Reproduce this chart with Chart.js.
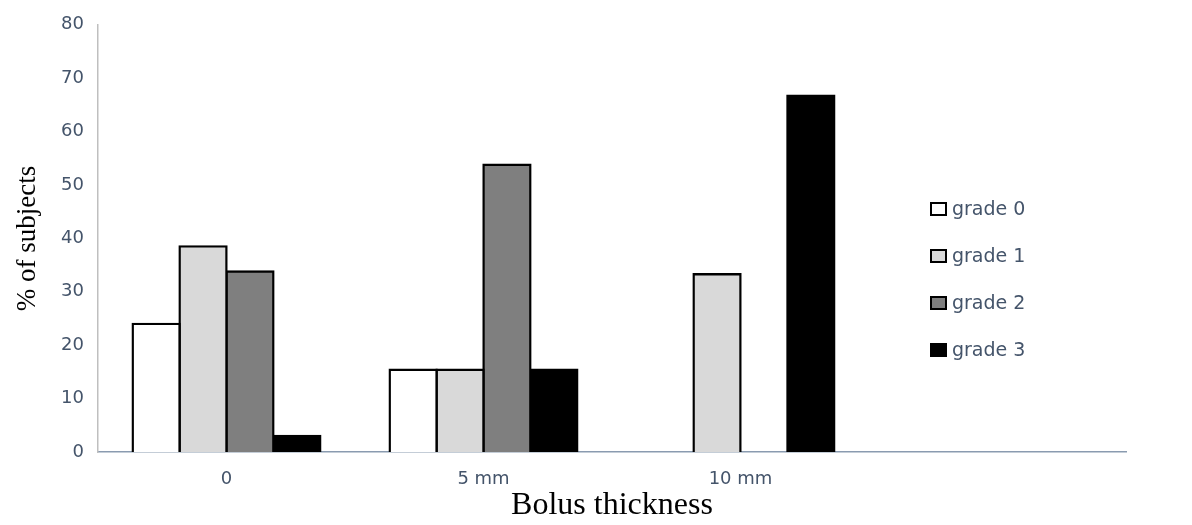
<!DOCTYPE html>
<html>
<head>
<meta charset="utf-8">
<script src="https://cdn.jsdelivr.net/npm/chart.js@4"></script>
<style>
html, body { margin: 0; padding: 0; background: #fff; }
#wrap { width: 1192px; height: 525px; position: relative; }
</style>
</head>
<body>
<div id="wrap"><canvas id="myChart"></canvas></div>
<script>
const categories = ["0", "5 mm", "10 mm", ""];
const grade0 = [24, 15.4, 0, null];
const grade1 = [38.5, 15.4, 33.3, null];
const grade2 = [33.8, 53.8, 0, null];
const grade3 = [3, 15.4, 66.7, null];
const seriesNames = ["grade 0", "grade 1", "grade 2", "grade 3"];
const yMin = 0, yMax = 80, yStep = 10;

const canvas = document.getElementById("myChart");
const tickColor = "#44546a";

// legend sits inside the plot, on the right
const sideLegend = {
    id: "sideLegend",
    afterDraw(chart) {
        const ctx = chart.ctx;
        ctx.save();
        ctx.font = "19px 'DejaVu Sans'";
        ctx.textBaseline = "middle";
        chart.data.datasets.forEach((ds, i) => {
            const y = 209 + i * 47;
            ctx.fillStyle = ds.backgroundColor;
            ctx.fillRect(931, y - 6, 15, 12);
            ctx.lineWidth = 2;
            ctx.strokeStyle = "#000";
            ctx.strokeRect(931, y - 6, 15, 12);
            ctx.fillStyle = tickColor;
            ctx.fillText(ds.label, 952, y + 1);
        });
        ctx.restore();
    }
};

const makeSet = (i, values, color) => ({
    label: seriesNames[i],
    data: values,
    backgroundColor: color,
    borderColor: "#000",
    borderWidth: 2.4,
    inflateAmount: 1.2,
    categoryPercentage: 0.73,
    barPercentage: 1
});

const config = {
    type: "bar",
    data: {
        labels: categories,
        datasets: [
            makeSet(0, grade0, "#ffffff"),
            makeSet(1, grade1, "#d9d9d9"),
            makeSet(2, grade2, "#7f7f7f"),
            makeSet(3, grade3, "#000000")
        ]
    },
    options: {
        responsive: true,
        maintainAspectRatio: false,
        animation: false,
        layout: { padding: { top: 21, right: 66, left: 0, bottom: 0 } },
        plugins: {
            legend: { display: false },
            tooltip: { enabled: false }
        },
        scales: {
            x: {
                grid: { display: false, drawTicks: false },
                border: { color: "#8a9bb0", width: 1.5 },
                ticks: { color: tickColor, font: { family: "DejaVu Sans", size: 18 }, padding: 17 },
                title: {
                    display: true,
                    text: "Bolus thickness",
                    color: "#000",
                    font: { family: "Liberation Serif", size: 32 },
                    padding: { top: 0, bottom: 0 }
                },
                afterFit: s => { s.height = 73; }
            },
            y: {
                min: yMin,
                max: yMax,
                grid: { display: false, drawTicks: false },
                border: { color: "#bfbfbf", width: 1.5 },
                ticks: { stepSize: yStep, color: tickColor, font: { family: "DejaVu Sans", size: 18 }, padding: 14 },
                title: {
                    display: true,
                    text: "% of subjects",
                    color: "#000",
                    font: { family: "Liberation Serif", size: 27 },
                    padding: { top: 12, bottom: 0 }
                },
                afterFit: s => { s.width = 98; }
            }
        }
    },
    plugins: [sideLegend]
};

const myChart = new Chart(canvas, config);
</script>
</body>
</html>
